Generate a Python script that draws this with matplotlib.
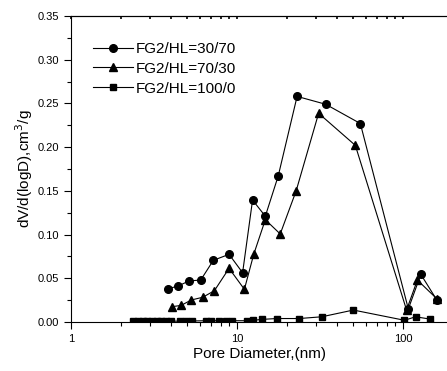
import matplotlib.pyplot as plt
import matplotlib as mpl
from matplotlib.ticker import LogLocator, MultipleLocator, FixedFormatter, FixedLocator

mpl.rcParams["font.family"] = ["Liberation Sans", "DejaVu Sans"]

## データ
d_30_70 = [3.82, 4.39, 5.14, 6.04, 7.2, 8.95, 10.8, 12.4, 14.8, 17.7, 23.0, 34.2, 55.3, 107.6, 128, 160]
v_30_70 = [0.038, 0.041, 0.047, 0.048, 0.0706, 0.0774, 0.0564, 0.1395, 0.121, 0.167, 0.258, 0.249, 0.227, 0.015, 0.0545, 0.025]

d_70_30 = [4.04, 4.6, 5.3, 6.21, 7.3, 8.95, 11.07, 12.6, 14.8, 18.2, 22.7, 31.0, 51.6, 105, 122, 161]
v_70_30 = [0.0175, 0.019, 0.0252, 0.0283, 0.0358, 0.0614, 0.0374, 0.0774, 0.117, 0.1007, 0.15, 0.2387, 0.202, 0.0137, 0.048, 0.026]

d_100_0 = [2.36, 2.52, 2.70, 2.88, 3.09, 3.28, 3.48, 3.74, 4.02, 4.55, 4.93, 5.36, 6.48, 7.0,
           7.82, 8.55, 9.33, 11.4, 12.5, 14.1, 17.3, 23.7, 32.4, 50.2, 102, 119, 145]
v_100_0 = [0.001, 0.0012, 0.0015, 0.0015, 0.0015, 0.0015, 0.0015, 0.0012, 0.001, 0.001, 0.001, 0.0012, 0.0015, 0.0015,
           0.0015, 0.0015, 0.0015, 0.0015, 0.002, 0.003, 0.004, 0.004, 0.006, 0.0137, 0.002, 0.006, 0.0034]

labels = ["FG2/HL=30/70", "FG2/HL=70/30", "FG2/HL=100/0"]

fig = plt.figure(figsize=(4.47, 3.71), dpi=100)
ax = fig.add_axes([0.159, 0.132, 0.841, 0.825])

ax.plot(d_30_70, v_30_70, "k-", marker="o", ms=5.5, lw=0.8, label=labels[0])
ax.plot(d_70_30, v_70_30, "k-", marker="^", ms=6, lw=0.8, label=labels[1])
ax.plot(d_100_0, v_100_0, "k-", marker="s", ms=4.5, lw=0.8, label=labels[2])

## 軸
ax.set_xscale("log")
ax.set_xlim(1, 184)
ax.set_ylim(0, 0.35)
ax.xaxis.set_major_locator(FixedLocator([1, 10, 100]))
ax.xaxis.set_major_formatter(FixedFormatter(["1", "10", "100"]))
ax.xaxis.set_minor_locator(LogLocator(base=10, subs=range(2, 10)))
ax.xaxis.set_minor_formatter(FixedFormatter([]))
ax.yaxis.set_major_locator(MultipleLocator(0.05))
ax.yaxis.set_minor_locator(MultipleLocator(0.025))
ax.yaxis.set_major_formatter(mpl.ticker.FormatStrFormatter("%.2f"))

ax.spines["right"].set_visible(False)
for s in ax.spines.values():
    s.set_linewidth(0.8)
ax.tick_params(which="major", direction="out", length=5, width=0.8, labelsize=8)
ax.tick_params(which="minor", direction="out", length=3, width=0.8)

## 上の軸: 内向きの短い目盛り
top = ax.secondary_xaxis("top")
top.set_xticks([1, 10, 100])
top.xaxis.set_minor_locator(LogLocator(base=10, subs=range(2, 10)))
top.tick_params(which="both", direction="in", length=2, width=1.2, labeltop=False)
top.set_xticklabels([])
top.spines["top"].set_linewidth(0.8)

ax.set_xlabel("Pore Diameter,(nm)", fontsize=11, labelpad=2)
ax.set_ylabel("dV/d(logD),cm$^3$/g", fontsize=11, labelpad=2)

ax.legend(loc="upper left", bbox_to_anchor=(0.035, 0.945), frameon=False, fontsize=11,
          handlelength=2.6, handletextpad=0.2, labelspacing=0.38, borderaxespad=0.2)

fig.savefig("out.png", dpi=100)
